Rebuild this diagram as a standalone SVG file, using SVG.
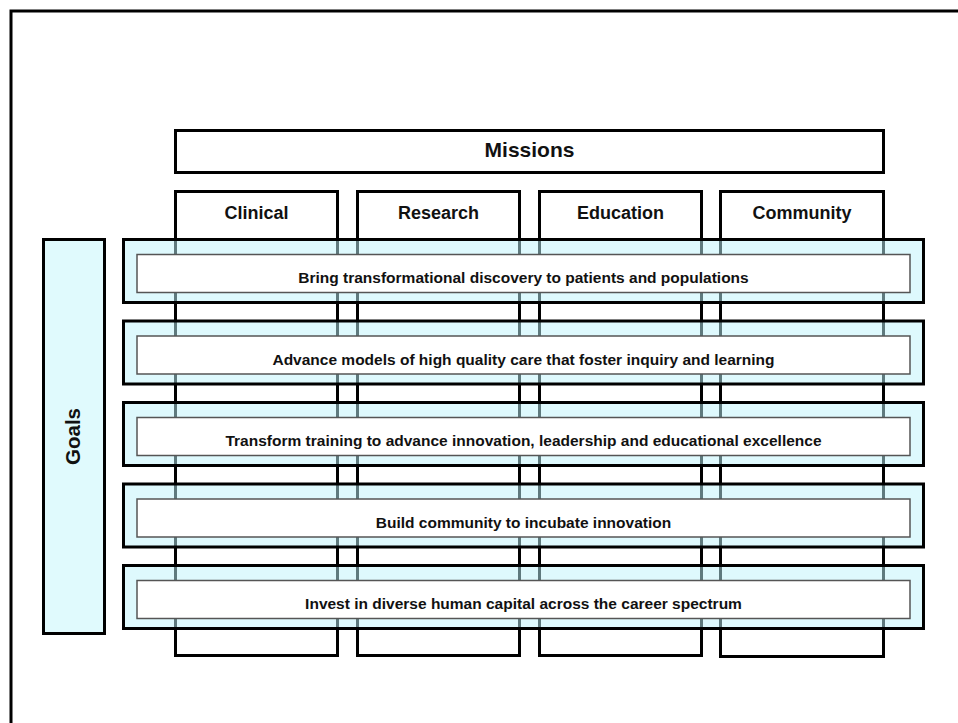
<svg xmlns="http://www.w3.org/2000/svg" width="958" height="723" viewBox="0 0 958 723">
  <style>
    .frame { fill: #ffffff; stroke: #000000; stroke-width: 3; }
    .box { fill: #ffffff; stroke: #000000; stroke-width: 3; }
    .band { fill: rgb(190, 244, 251); fill-opacity: 0.5; stroke: #000000; stroke-width: 3; }
    .goalbox { fill: #e0fafd; stroke: #000000; stroke-width: 3; }
    .inner { fill: #ffffff; stroke: #555555; stroke-width: 1.5; }
    text { font-family: "Liberation Sans", Arial, sans-serif; font-weight: bold; fill: #111111; text-anchor: middle; }
    .t-missions { font-size: 21px; }
    .t-col { font-size: 18px; }
    .t-goals { font-size: 20.5px; }
    .t-goal { font-size: 15.5px; }
  </style>

  <rect width="958" height="723" fill="#ffffff"/>
  <!-- page frame, open past the right and bottom edges -->
  <rect class="frame" x="11" y="11" width="1000" height="800"/>

  <g id="missions">
    <rect class="box" x="175.5" y="130.5" width="708" height="42"/>
    <text class="t-missions" x="529.5" y="157">Missions</text>
  </g>

  <!-- mission columns run behind the goal bands -->
  <g id="col-clinical">
    <rect class="box" x="175.5" y="191.5" width="162" height="464"/>
    <text class="t-col" x="256.5" y="219">Clinical</text>
  </g>
  <g id="col-research">
    <rect class="box" x="357.5" y="191.5" width="162" height="464"/>
    <text class="t-col" x="438.5" y="219">Research</text>
  </g>
  <g id="col-education">
    <rect class="box" x="539.5" y="191.5" width="162" height="464"/>
    <text class="t-col" x="620.5" y="219">Education</text>
  </g>
  <g id="col-community">
    <rect class="box" x="720.5" y="191.5" width="163" height="465"/>
    <text class="t-col" x="802" y="219">Community</text>
  </g>

  <g id="goals">
    <rect class="goalbox" x="43.5" y="239.5" width="61" height="394"/>
    <text class="t-goals" transform="translate(80 436.5) rotate(-90)">Goals</text>
  </g>

  <g id="goal-1">
    <rect class="band" x="123.5" y="239.5" width="800" height="63"/>
    <rect class="inner" x="137" y="254.5" width="773" height="38"/>
    <text class="t-goal" x="523.5" y="283">Bring transformational discovery to patients and populations</text>
  </g>
  <g id="goal-2">
    <rect class="band" x="123.5" y="321" width="800" height="63"/>
    <rect class="inner" x="137" y="336" width="773" height="38"/>
    <text class="t-goal" x="523.5" y="364.5">Advance models of high quality care that foster inquiry and learning</text>
  </g>
  <g id="goal-3">
    <rect class="band" x="123.5" y="402.5" width="800" height="63"/>
    <rect class="inner" x="137" y="417.5" width="773" height="38"/>
    <text class="t-goal" x="523.5" y="446">Transform training to advance innovation, leadership and educational excellence</text>
  </g>
  <g id="goal-4">
    <rect class="band" x="123.5" y="484" width="800" height="63"/>
    <rect class="inner" x="137" y="499" width="773" height="38"/>
    <text class="t-goal" x="523.5" y="527.5">Build community to incubate innovation</text>
  </g>
  <g id="goal-5">
    <rect class="band" x="123.5" y="565.5" width="800" height="63"/>
    <rect class="inner" x="137" y="580.5" width="773" height="38"/>
    <text class="t-goal" x="523.5" y="609">Invest in diverse human capital across the career spectrum</text>
  </g>
</svg>
